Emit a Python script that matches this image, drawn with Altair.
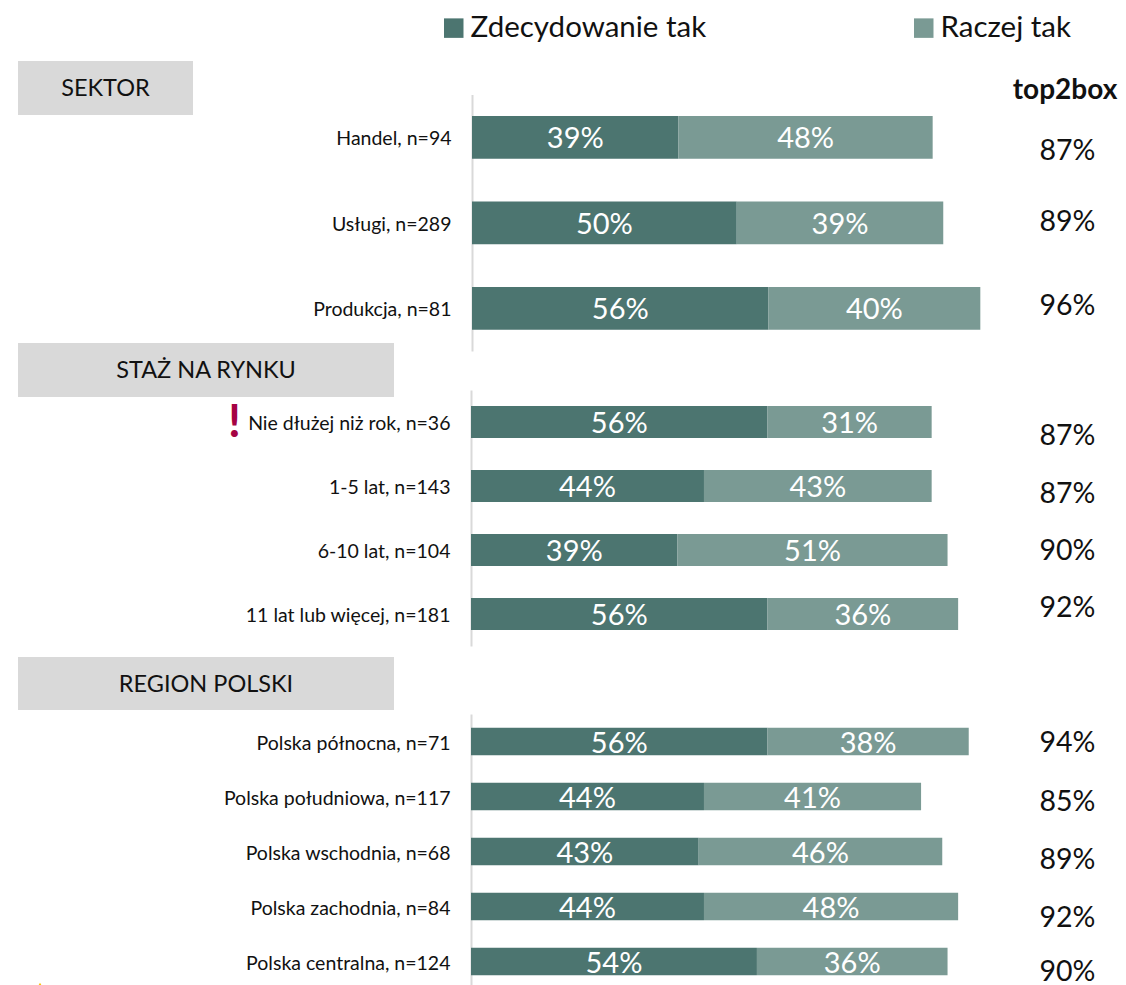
import altair as alt
import pandas as pd

SERIES = ["Zdecydowanie tak", "Raczej tak"]
COLORS = ["#4C7570", "#7A9A94"]

sektor_rows = ["Handel, n=94", "Usługi, n=289", "Produkcja, n=81"]
sektor_def = [39, 50, 56]
sektor_rather = [48, 39, 40]
sektor_top = [87, 89, 96]

staz_rows = ["Nie dłużej niż rok, n=36", "1-5 lat, n=143", "6-10 lat, n=104", "11 lat lub więcej, n=181"]
staz_def = [56, 44, 39, 56]
staz_rather = [31, 43, 51, 36]
staz_top = [87, 87, 90, 92]

region_rows = ["Polska północna, n=71", "Polska południowa, n=117", "Polska wschodnia, n=68",
               "Polska zachodnia, n=84", "Polska centralna, n=124"]
region_def = [56, 44, 43, 44, 54]
region_rather = [38, 41, 46, 48, 36]
region_top = [94, 85, 89, 92, 90]

LABEL_FONT = "Lato"
PX_PER_PCT = 5.295


def group(rows, a, b, top, x0, yrange, lab_pad, top_nudges, lab_size, show_legend):
    long = []
    for r, v1, v2 in zip(rows, a, b):
        long.append({"row": r, "series": SERIES[0], "idx": 0, "value": v1})
        long.append({"row": r, "series": SERIES[1], "idx": 1, "value": v2})
    df = pd.DataFrame(long)
    xs = alt.Scale(domain=[0, 100], range=[x0, x0 + 100 * PX_PER_PCT])
    ys = alt.Scale(domain=rows, range=yrange, paddingInner=0.5, paddingOuter=0.25)
    yenc = alt.Y("row:N", scale=ys, sort=rows,
                 axis=alt.Axis(orient="left", offset=-x0, title=None, ticks=False,
                               domainColor="#D9D9D9", domainWidth=2, labelColor="#111111",
                               labelFont=LABEL_FONT, labelFontSize=lab_size, labelPadding=lab_pad,
                               labelOffset=2, labelLimit=400, grid=False))
    legend = alt.Legend(orient="none", legendX=431, legendY=5, direction="horizontal", columns=2,
                        columnPadding=202, title=None, symbolType="square", symbolSize=380,
                        symbolStrokeWidth=0, labelFont=LABEL_FONT, labelFontSize=29.5,
                        labelColor="#111111", labelOffset=2, labelLimit=400, symbolOpacity=1) if show_legend else None
    base = alt.Chart(df).transform_stack(stack="value", as_=["x0", "x1"], groupby=["row"],
                                         sort=[alt.SortField("idx", order="ascending")]
                                         ).transform_calculate(mid="(datum.x0+datum.x1)/2",
                                                               label="datum.value + '%'")
    bars = base.mark_bar(strokeWidth=0).encode(
        x=alt.X("x0:Q", scale=xs, axis=None),
        x2="x1:Q",
        y=yenc,
        color=alt.Color("series:N", scale=alt.Scale(domain=SERIES, range=COLORS), legend=legend),
    )
    texts = base.mark_text(color="white", font=LABEL_FONT, fontSize=29, dy=2).encode(
        x=alt.X("mid:Q", scale=xs, axis=None), y=yenc, text="label:N")
    tops = []
    tdf = pd.DataFrame({"row": rows, "top": [f"{t}%" for t in top]})
    for r, d in zip(rows, top_nudges):
        tops.append(alt.Chart(tdf[tdf.row == r]).mark_text(
            font=LABEL_FONT, fontSize=28.5, color="#111111", dy=d).encode(
            x=alt.value(1059.5), y=yenc, text="top:N"))
    return alt.layer(bars, texts, *tops)


def header(text, x1, x2, y1, y2):
    d = pd.DataFrame({"t": [text]})
    box = alt.Chart(d).mark_rect(color="#D9D9D9").encode(
        x=alt.value(x1), x2=alt.value(x2), y=alt.value(y1), y2=alt.value(y2))
    lab = alt.Chart(d).mark_text(font=LABEL_FONT, fontSize=23.5, color="#111111").encode(
        x=alt.value((x1 + x2) / 2), y=alt.value((y1 + y2) / 2 + 1), text="t:N")
    return box + lab


g1 = group(sektor_rows, sektor_def, sektor_rather, sektor_top, 464, [86.5, 343], 21, [14, -1, -2], 19.5, True)
g2 = group(staz_rows, staz_def, staz_rather, staz_top, 463, [382, 638], 21, [14, 8, 1, -6], 19.5, False)
g3 = group(region_rows, region_def, region_rather, region_top, 463, [706, 981], 21, [1, 5, 8, 11, 10], 19.5, False)

top_head = alt.Chart(pd.DataFrame({"t": ["top2box"]})).mark_text(
    font=LABEL_FONT, fontSize=28, fontWeight="bold", color="#111111").encode(
    x=alt.value(1057), y=alt.value(83), text="t:N")
bang = alt.Chart(pd.DataFrame({"t": ["!"]})).mark_text(
    font=LABEL_FONT, fontSize=46, fontWeight="bold", color="#A50343").encode(
    x=alt.value(226.5), y=alt.value(415), text="t:N")
tri = alt.Chart(pd.DataFrame({"t": ["marker"]})).mark_point(
    shape="triangle-up", filled=True, size=28, color="#FFC000", opacity=1).encode(
    x=alt.value(32), y=alt.value(977))

chart = alt.layer(
    g1, g2, g3,
    header("SEKTOR", 10, 185, 53, 107),
    header("STAŻ NA RYNKU", 10, 386, 335, 389),
    header("REGION POLSKI", 10, 386, 649, 702),
    top_head, bang, tri,
).resolve_scale(x="independent", y="independent").properties(
    width=1110, height=977, padding=0, autosize=alt.AutoSizeParams(type="none")
).configure_view(stroke=None)

chart.save("out.html", embed_options={"renderer": "svg", "actions": False})
